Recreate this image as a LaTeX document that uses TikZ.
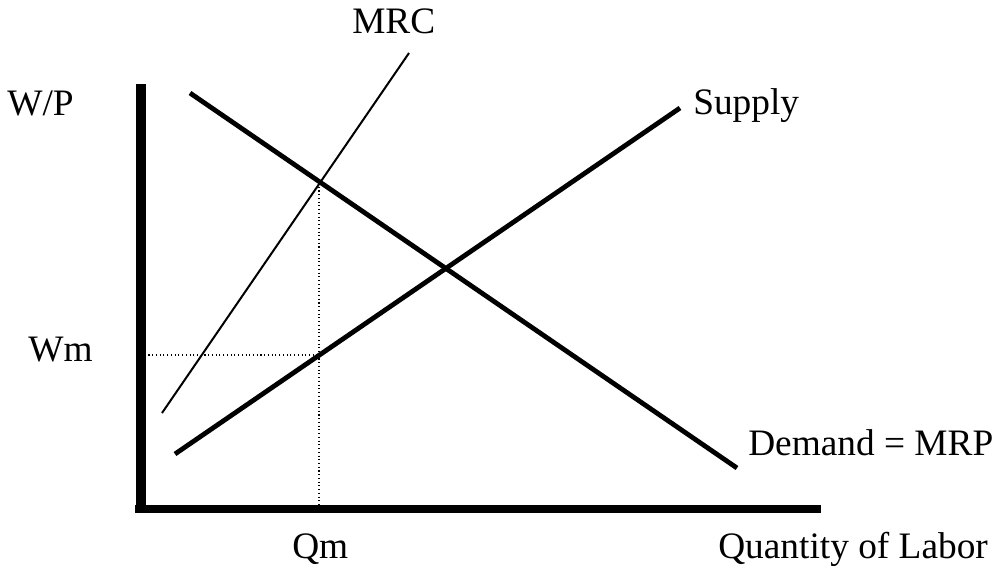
\documentclass[tikz,border=0pt]{standalone}
\usepackage{fontspec}
\setmainfont{Liberation Serif}
\begin{document}
\begin{tikzpicture}[x=0.75pt,y=-0.75pt,
  lbl/.style={inner sep=0pt,anchor=base west,font=\fontsize{28pt}{33pt}\selectfont},
  curve/.style={line width=3.6pt},
  thincurve/.style={line width=1.5pt},
  guide/.style={line width=0.8pt,dotted}]
\useasboundingbox (0,0) rectangle (999,575);
% axes
\coordinate (ytop) at (140.5,84);
\coordinate (ybot) at (140.5,513);
\coordinate (xstart) at (135,509);
\coordinate (xend) at (821,509);
\draw[line width=7.5pt] (ytop) -- (ybot);
\draw[line width=6pt] (xstart) -- (xend);
% curves
\coordinate (d1) at (190,93);
\coordinate (d2) at (737,468);
\draw[curve] (d1) -- (d2);
\coordinate (s1) at (175,454);
\coordinate (s2) at (680,108);
\draw[curve] (s1) -- (s2);
\coordinate (m1) at (162,413);
\coordinate (m2) at (409,53);
\draw[thincurve] (m1) -- (m2);
% guides
\coordinate (qtop) at (319,183);
\coordinate (qbot) at (319,509);
\coordinate (wleft) at (141,355);
\coordinate (wright) at (319,355);
\draw[guide] (qtop) -- (qbot);
\draw[guide] (wleft) -- (wright);
% labels
\node[lbl] (mrc) at (352,33) {MRC};
\node[lbl] (wp) at (7,115) {W/P};
\node[lbl] (supply) at (693,114) {Supply};
\node[lbl] (wm) at (28,361.5) {Wm};
\node[lbl] (dem) at (748,455) {Demand = MRP};
\node[lbl] (qm) at (292,558) {Qm};
\node[lbl] (qlab) at (718,558) {Quantity of Labor};
\end{tikzpicture}
\end{document}
